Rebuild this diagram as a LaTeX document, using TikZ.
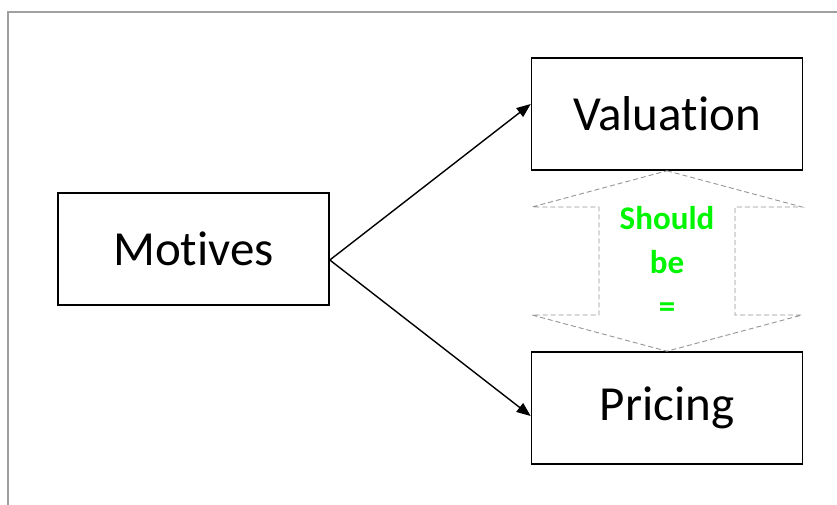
\documentclass[tikz,border=0pt]{standalone}
\usepackage{fontspec}
\setmainfont{Carlito}[Ligatures={NoCommon,NoContextual}]
\usetikzlibrary{arrows.meta}
\definecolor{framegray}{RGB}{160,160,160}
\definecolor{dashgray}{RGB}{150,150,150}
\definecolor{brightgreen}{RGB}{0,245,0}
\tikzset{
  box/.style={draw=black, line width=1.6pt, minimum width=271pt, minimum height=112pt,
    inner sep=0pt, font=\fontsize{49}{55}\selectfont},
  link/.style={line width=1.4pt, -{Triangle[length=14pt,width=11pt]}},
  equalarrow/.style={draw=dashgray, line width=0.9pt, dash pattern=on 5pt off 3pt},
  note/.style={text=brightgreen, font=\fontsize{33}{44}\selectfont\bfseries, align=center}
}
\begin{document}
\begin{tikzpicture}[x=1pt, y=-1pt]
  \useasboundingbox (0,0) rectangle (837,504);
  \fill[white] (0,0) rectangle (837,504);
  \begin{scope}
    \clip (0,0) rectangle (837,504);
    \draw[framegray, line width=1.3pt] (8,12) rectangle (860,530);
  \end{scope}

  \node[box] (motives) at (193.5,249) {Motives};
  \node[box] (valuation) at (667,114) {Valuation};
  \node[box] (pricing) at (667,408) {Pricing};

  % fork point and arrow ends
  \coordinate (fork) at ([yshift=-11pt]motives.east);
  \coordinate (vend) at ([yshift=10pt]valuation.west);
  \coordinate (pend) at ([yshift=-8pt]pricing.west);
  \draw[link] (fork) -- (vend);
  \draw[link] (fork) -- (pend);

  % double-headed outline arrow between the two boxes
  \draw[equalarrow]
    (valuation.south) -- (802,207) -- (735,207) -- (735,315) -- (802,315)
    -- (pricing.north) -- (532,315) -- (599,315) -- (599,207) -- (532,207) -- cycle;

  \node[note] (should) at (667,262) {Should\\be\\=};
\end{tikzpicture}
\end{document}
